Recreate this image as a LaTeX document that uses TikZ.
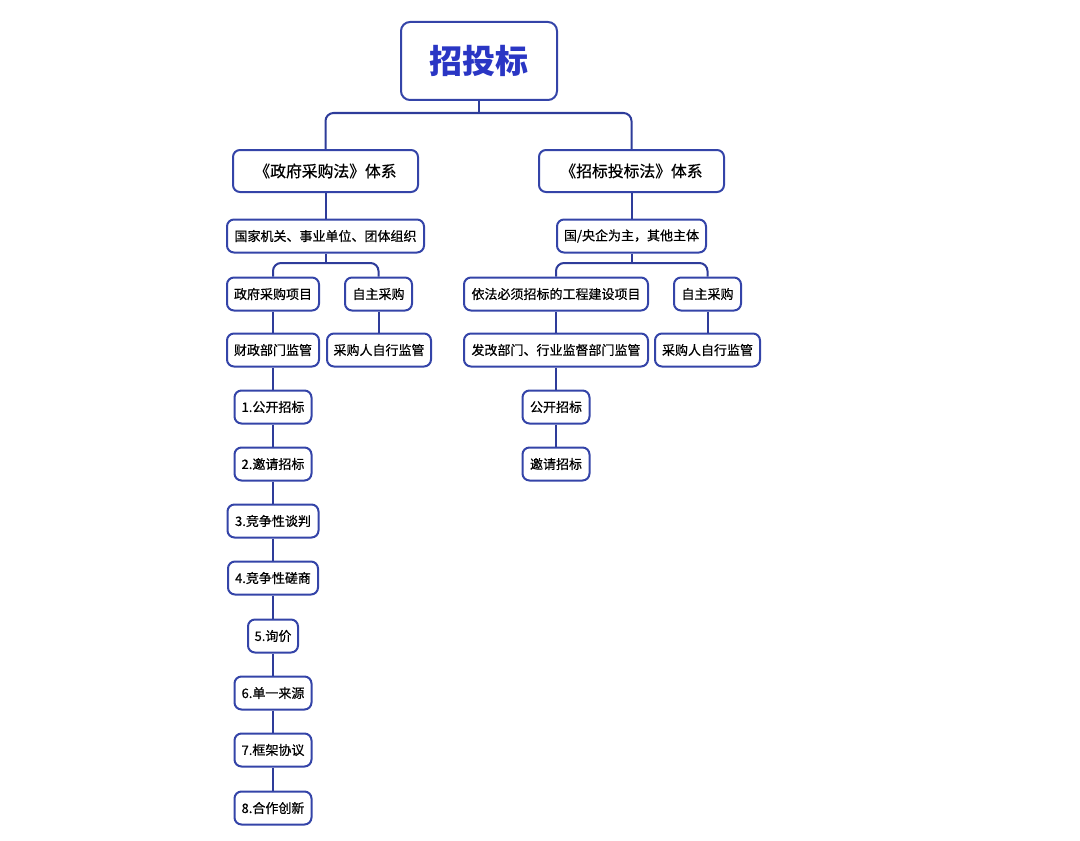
\documentclass[tikz,border=0pt]{standalone}
\usepackage{fontspec}
\setmainfont{Noto Sans CJK SC}
\newfontfamily\boxfont{Noto Sans CJK SC}[FakeBold=0.6]
\definecolor{linec}{HTML}{2E3C9A}
\definecolor{boxc}{HTML}{3444A8}
\definecolor{titlec}{HTML}{2A36C4}
\tikzset{
  box/.style={draw=boxc, line width=1pt, rounded corners=3.5pt, fill=white,
    minimum height=16.5pt, inner sep=0pt, align=center,
    font=\boxfont\fontsize{6.5}{8}\selectfont},
  conn/.style={draw=linec, line width=1pt},
  fork/.style={draw=linec, line width=1pt, rounded corners=4pt}
}
\begin{document}
\begin{tikzpicture}[x=0.5pt,y=-0.5pt]
\useasboundingbox (0,0) rectangle (1080,840);
% root
\node[box, minimum width=78pt, minimum height=39pt, rounded corners=4.5pt,
  font=\fontsize{16.5}{20}\selectfont\bfseries, text=titlec] (root) at (479,61) {招投标};
% level 1
\node[box, minimum width=92.5pt, minimum height=21pt, font=\boxfont\fontsize{7.9}{9}\selectfont] (gp) at (325.5,171) {《政府采购法》体系};
\node[box, minimum width=92.5pt, minimum height=21pt, font=\boxfont\fontsize{7.9}{9}\selectfont] (zb) at (631.5,171) {《招标投标法》体系};
% left branch
\node[box, minimum width=98.5pt] (gj) at (325.5,236) {国家机关、事业单位、团体组织};
\node[box, minimum width=46pt] (zfxm) at (273,294) {政府采购项目};
\node[box, minimum width=33.5pt] (zzl) at (378.5,294) {自主采购};
\node[box, minimum width=46pt] (czjg) at (273,350) {财政部门监管};
\node[box, minimum width=52pt] (cgrl) at (379,350) {采购人自行监管};
\node[box, minimum width=38.5pt] (m1) at (273,407) {1.公开招标};
\node[box, minimum width=38.5pt] (m2) at (273,464) {2.邀请招标};
\node[box, minimum width=45.5pt] (m3) at (273,521) {3.竞争性谈判};
\node[box, minimum width=45pt] (m4) at (273,578) {4.竞争性磋商};
\node[box, minimum width=25pt] (m5) at (273,636) {5.询价};
\node[box, minimum width=38.5pt] (m6) at (273,693) {6.单一来源};
\node[box, minimum width=38.5pt] (m7) at (273,750) {7.框架协议};
\node[box, minimum width=38.5pt] (m8) at (273,808) {8.合作创新};
% right branch
\node[box, minimum width=74.5pt] (gy) at (631.5,236) {国/央企为主，其他主体};
\node[box, minimum width=92pt] (yf) at (556,294) {依法必须招标的工程建设项目};
\node[box, minimum width=33.5pt] (zzr) at (707.5,294) {自主采购};
\node[box, minimum width=92pt] (fg) at (556,350) {发改部门、行业监督部门监管};
\node[box, minimum width=52.5pt] (cgrr) at (707.5,350) {采购人自行监管};
\node[box, minimum width=33.5pt] (r1) at (556,407) {公开招标};
\node[box, minimum width=33.5pt] (r2) at (556,464) {邀请招标};
% junctions
\coordinate (j0) at (479,113);
\coordinate (jl) at (325.5,263);
\coordinate (jr) at (631.5,263);
% connectors
\draw[conn] (root.south) -- (j0);
\draw[fork] (gp.north) |- (zb.north |- j0) -- (zb.north);
\draw[conn] (gp.south) -- (gj.north);
\draw[conn] (zb.south) -- (gy.north);
\draw[conn] (gj.south) -- (jl);
\draw[fork] (zfxm.north) |- (zzl.north |- jl) -- (zzl.north);
\draw[conn] (gy.south) -- (jr);
\draw[fork] (yf.north) |- (zzr.north |- jr) -- (zzr.north);
\draw[conn] (zfxm.south) -- (czjg.north);
\draw[conn] (zzl.south) -- (zzl.south |- cgrl.north);
\draw[conn] (czjg.south) -- (m1.north);
\draw[conn] (m1.south) -- (m2.north);
\draw[conn] (m2.south) -- (m3.north);
\draw[conn] (m3.south) -- (m4.north);
\draw[conn] (m4.south) -- (m5.north);
\draw[conn] (m5.south) -- (m6.north);
\draw[conn] (m6.south) -- (m7.north);
\draw[conn] (m7.south) -- (m8.north);
\draw[conn] (yf.south) -- (fg.north);
\draw[conn] (zzr.south) -- (cgrr.north);
\draw[conn] (fg.south) -- (r1.north);
\draw[conn] (r1.south) -- (r2.north);
\end{tikzpicture}
\end{document}
